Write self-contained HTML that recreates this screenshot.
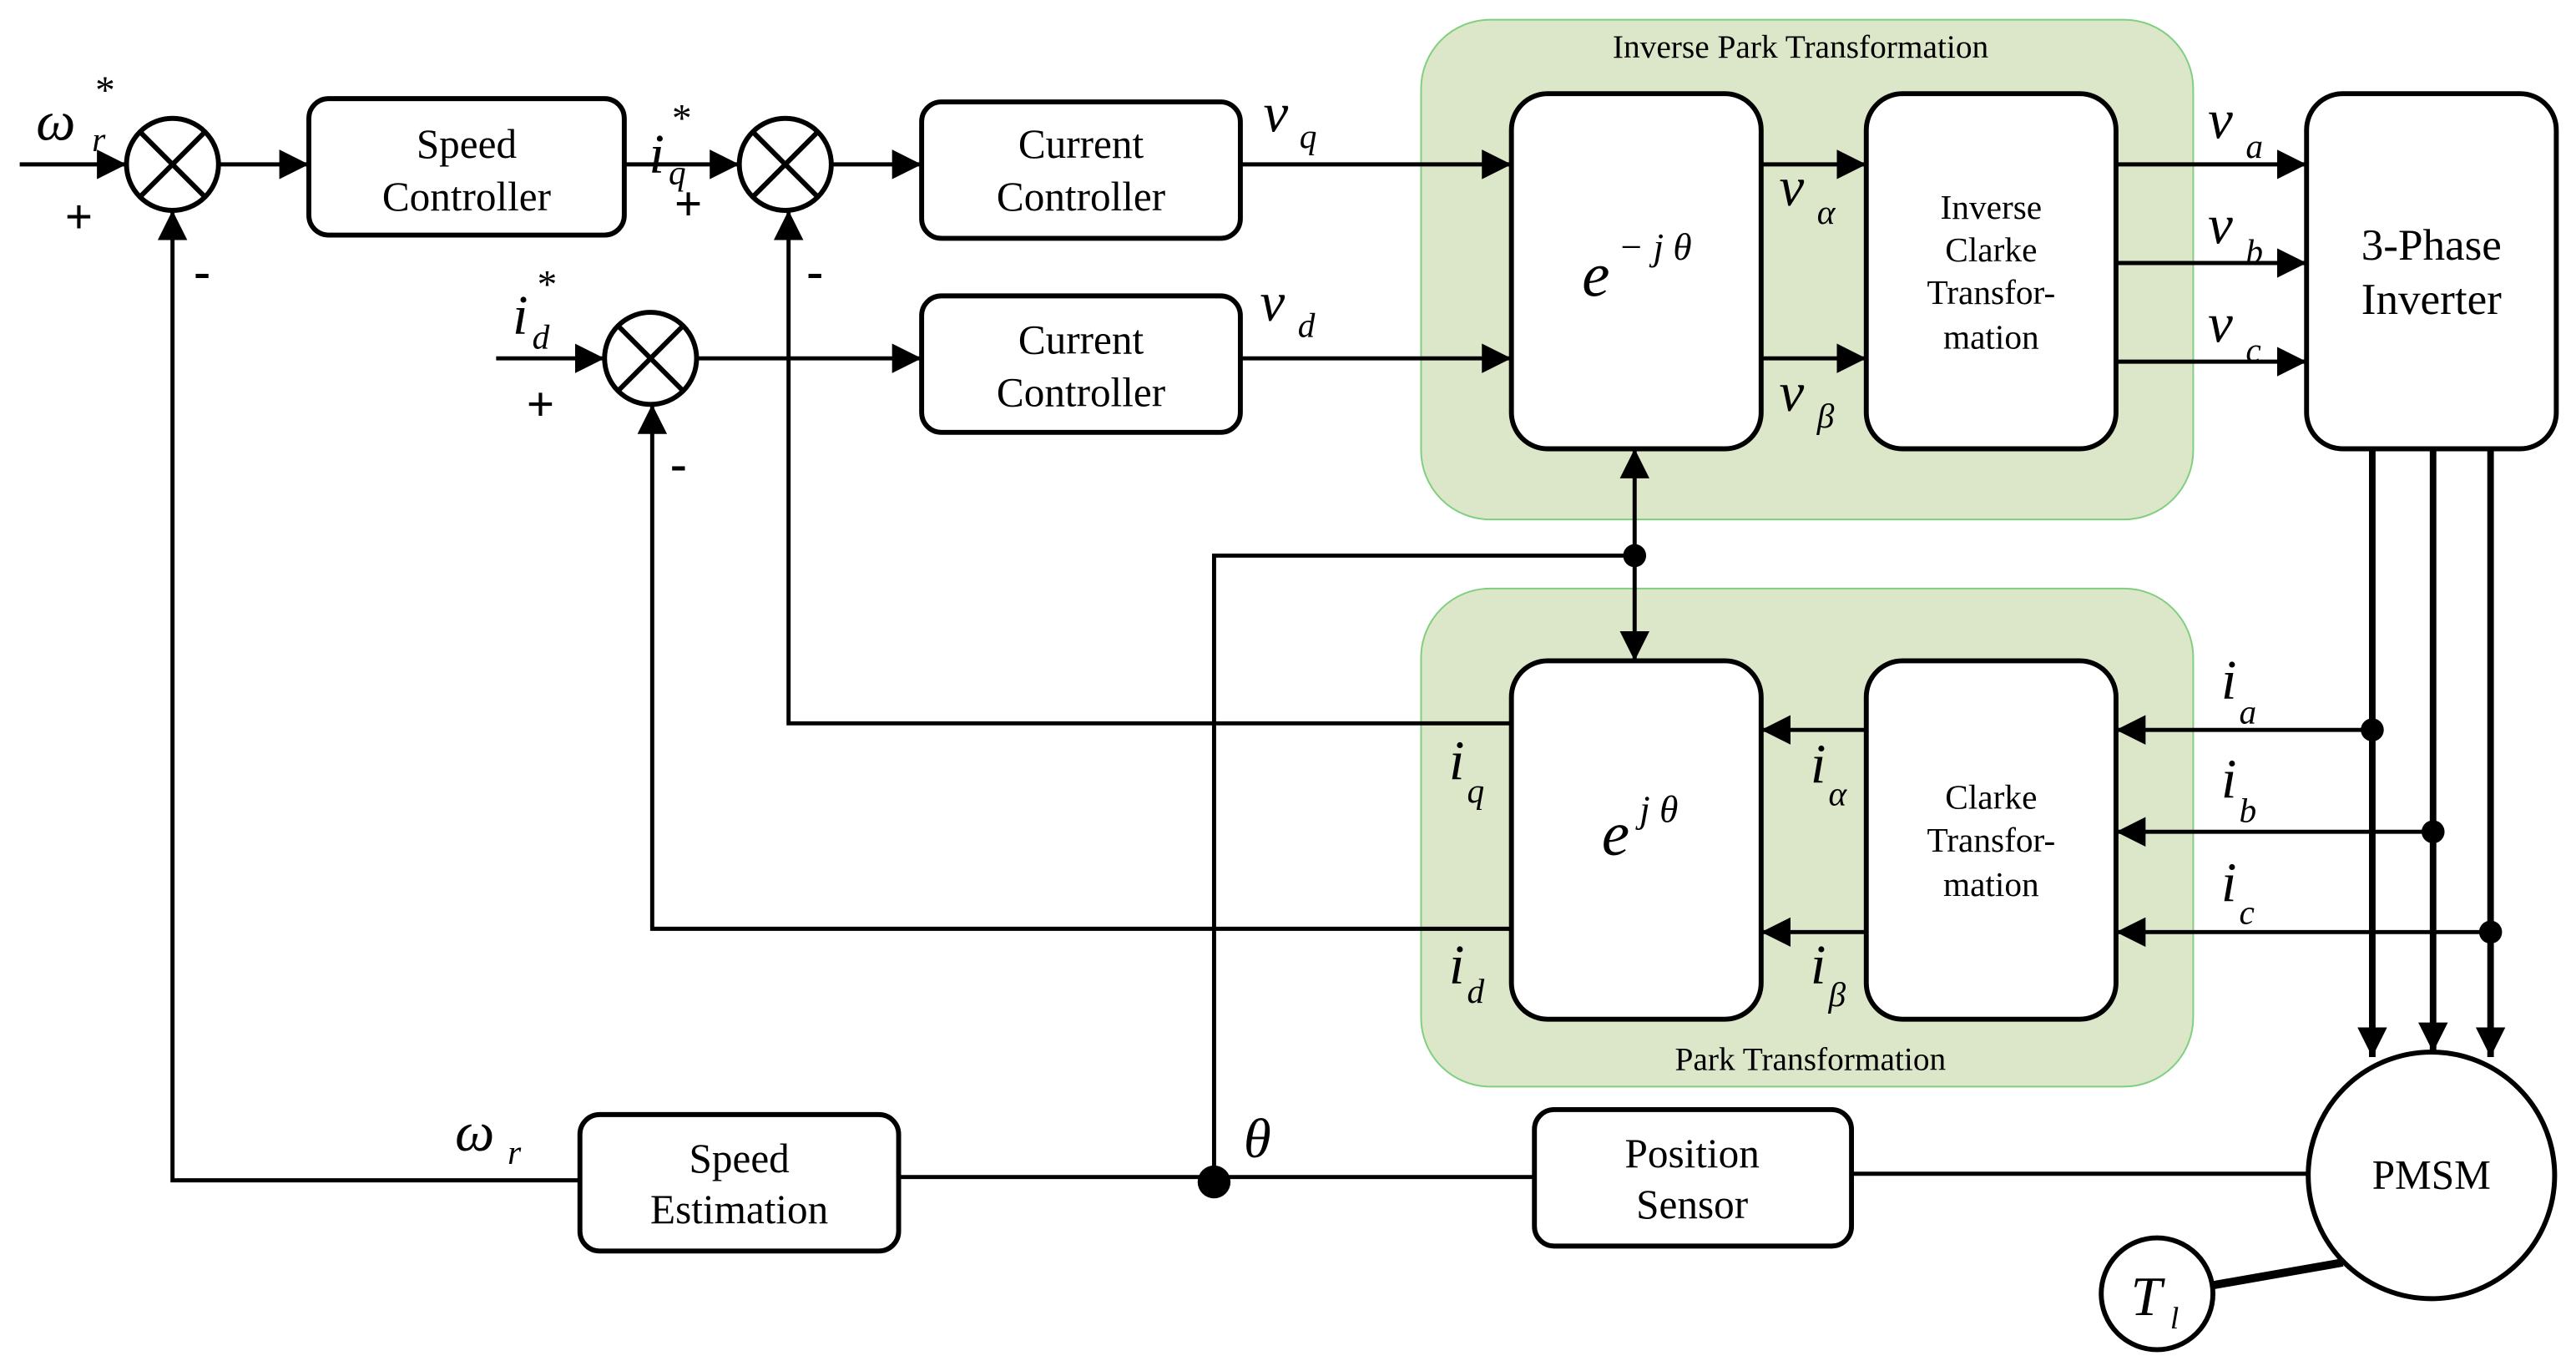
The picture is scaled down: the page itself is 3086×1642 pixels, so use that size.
<!DOCTYPE html>
<html><head><style>html,body{margin:0;padding:0;background:#fff;}svg{display:block}text{font-family:"Liberation Serif","DejaVu Serif",serif;}</style></head>
<body>
<svg width="3086" height="1642" viewBox="0 0 1568 834" preserveAspectRatio="none" xmlns="http://www.w3.org/2000/svg">
<defs>
<marker id="a" viewBox="0 0 10 10" refX="10" refY="5" markerWidth="18" markerHeight="18" markerUnits="userSpaceOnUse" orient="auto"><path d="M0,0 L10,5 L0,10 z" fill="#000"/></marker>
</defs>
<rect x="865" y="12" width="470" height="304" rx="42" fill="#dce6c8" stroke="#7fcf7f" stroke-width="1"/>
<rect x="865" y="358" width="470" height="303" rx="42" fill="#dce6c8" stroke="#7fcf7f" stroke-width="1"/>
<text x="1096" y="35" font-size="20" text-anchor="middle">Inverse Park Transformation</text>
<text x="1102" y="651" font-size="20" text-anchor="middle">Park Transformation</text>

<g fill="#fff" stroke="#000" stroke-width="3">
<rect x="188" y="60" width="192" height="83" rx="12"/>
<rect x="561" y="62" width="194" height="83" rx="12"/>
<rect x="561" y="180" width="194" height="83" rx="12"/>
<rect x="920" y="57" width="152" height="216" rx="22"/>
<rect x="1136" y="57" width="152" height="216" rx="22"/>
<rect x="1404" y="57" width="152" height="216" rx="22"/>
<rect x="920" y="402" width="152" height="218" rx="22"/>
<rect x="1136" y="402" width="152" height="218" rx="22"/>
<rect x="353" y="678" width="194" height="83" rx="12"/>
<rect x="934" y="675" width="193" height="83" rx="12"/>
<circle cx="105" cy="100" r="28"/>
<circle cx="478" cy="100" r="28"/>
<circle cx="396" cy="218" r="28"/>
<circle cx="1480" cy="715" r="75"/>
<circle cx="1313" cy="787" r="34"/>
</g>
<g stroke="#000" stroke-width="3">
<path d="M85,80 L125,120 M125,80 L85,120 M458,80 L498,120 M498,80 L458,120 M376,198 L416,238 M416,198 L376,238"/>
</g>
<g stroke="#000" stroke-width="2.5" fill="none" marker-end="url(#a)">
<path d="M12,100 H77"/>
<path d="M133,100 H188"/>
<path d="M380,100 H450"/>
<path d="M506,100 H561"/>
<path d="M755,100 H920"/>
<path d="M302,218 H368"/>
<path d="M424,218 H561"/>
<path d="M755,218 H920"/>
<path d="M1072,100 H1136"/>
<path d="M1072,218 H1136"/>
<path d="M1288,100 H1404"/>
<path d="M1288,160 H1404"/>
<path d="M1288,220 H1404"/>
<path d="M1444,444 H1288"/>
<path d="M1481,506 H1288"/>
<path d="M1516,567 H1288"/>
<path d="M1136,444 H1072"/>
<path d="M1136,567 H1072"/>
<path d="M920,440 H480 V128"/>
<path d="M920,565 H397 V246"/>
<path d="M353,718 H105 V128"/>
<path d="M995,338 V273"/>
<path d="M995,338 V402"/>
</g>
<g stroke="#000" stroke-width="4" fill="none" marker-end="url(#a)">
<path d="M1444,273 V643"/>
<path d="M1481,273 V640"/>
<path d="M1516,273 V643"/>
</g>
<g stroke="#000" stroke-width="2.5" fill="none">
<path d="M995,338 H739 V719"/>
<path d="M547,716 H934"/>
<path d="M1127,714 H1405"/>
</g>
<path d="M1346,782 L1426,768" stroke="#000" stroke-width="5"/>
<g fill="#000">
<circle cx="995" cy="338" r="7"/>
<circle cx="739" cy="719" r="10"/>
<circle cx="1444" cy="444" r="7"/>
<circle cx="1481" cy="506" r="7"/>
<circle cx="1516" cy="567" r="7"/>
</g>
<g font-size="25" text-anchor="middle">
<text x="284" y="96">Speed</text><text x="284" y="128">Controller</text>
<text x="658" y="96">Current</text><text x="658" y="128">Controller</text>
<text x="658" y="215">Current</text><text x="658" y="247">Controller</text>
<text x="450" y="713">Speed</text><text x="450" y="744">Estimation</text>
<text x="1030" y="710">Position</text><text x="1030" y="741">Sensor</text>
<text x="1480" y="158" font-size="27">3-Phase</text><text x="1480" y="191" font-size="27">Inverter</text>
<text x="1480" y="723">PMSM</text>
</g>
<g font-size="21" text-anchor="middle">
<text x="1212" y="133">Inverse</text><text x="1212" y="159">Clarke</text><text x="1212" y="185">Transfor-</text><text x="1212" y="212">mation</text>
<text x="1212" y="492">Clarke</text><text x="1212" y="518">Transfor-</text><text x="1212" y="545">mation</text>
</g>
<g font-size="30" font-weight="bold">
<text x="48" y="142" text-anchor="middle">+</text>
<text x="419" y="134" text-anchor="middle">+</text>
<text x="329" y="256" text-anchor="middle">+</text>
<text x="118" y="175">-</text>
<text x="491" y="175">-</text>
<text x="408" y="292">-</text>
</g>
<g font-style="italic" font-size="34">
<text x="22" y="85">ω</text><text x="56" y="92" font-size="21">r</text><text x="58" y="63" font-size="24" font-style="normal">*</text>
<text x="395" y="105">i</text><text x="407" y="112" font-size="21">q</text><text x="409" y="80" font-size="24" font-style="normal">*</text>
<text x="312" y="203">i</text><text x="324" y="212" font-size="21">d</text><text x="327" y="181" font-size="24" font-style="normal">*</text>
<text x="769" y="80">v</text><text x="791" y="90" font-size="21">q</text>
<text x="767" y="195">v</text><text x="790" y="205" font-size="21">d</text>
<text x="1083" y="125">v</text><text x="1106" y="136" font-size="21">α</text>
<text x="1083" y="250">v</text><text x="1106" y="260" font-size="21">β</text>
<text x="1344" y="84">v</text><text x="1367" y="96" font-size="21">a</text>
<text x="1344" y="148">v</text><text x="1367" y="160" font-size="21">b</text>
<text x="1344" y="208">v</text><text x="1367" y="220" font-size="21">c</text>
<text x="963" y="180" font-size="38">e</text><text x="985" y="158" font-size="23">− j θ</text>
<text x="975" y="520" font-size="38">e</text><text x="998" y="500" font-size="23">j θ</text>
<text x="1352" y="425">i</text><text x="1363" y="440" font-size="21">a</text>
<text x="1352" y="485">i</text><text x="1363" y="500" font-size="21">b</text>
<text x="1352" y="548">i</text><text x="1363" y="562" font-size="21">c</text>
<text x="1102" y="476">i</text><text x="1113" y="490" font-size="21">α</text>
<text x="1102" y="598">i</text><text x="1113" y="612" font-size="21">β</text>
<text x="882" y="474">i</text><text x="893" y="488" font-size="21">q</text>
<text x="882" y="598">i</text><text x="893" y="610" font-size="21">d</text>
<text x="277" y="700">ω</text><text x="309" y="708" font-size="21">r</text>
<text x="757" y="704">θ</text>
<text x="1297" y="800">T</text><text x="1321" y="808" font-size="19">l</text>
</g>
</svg>
</body></html>
